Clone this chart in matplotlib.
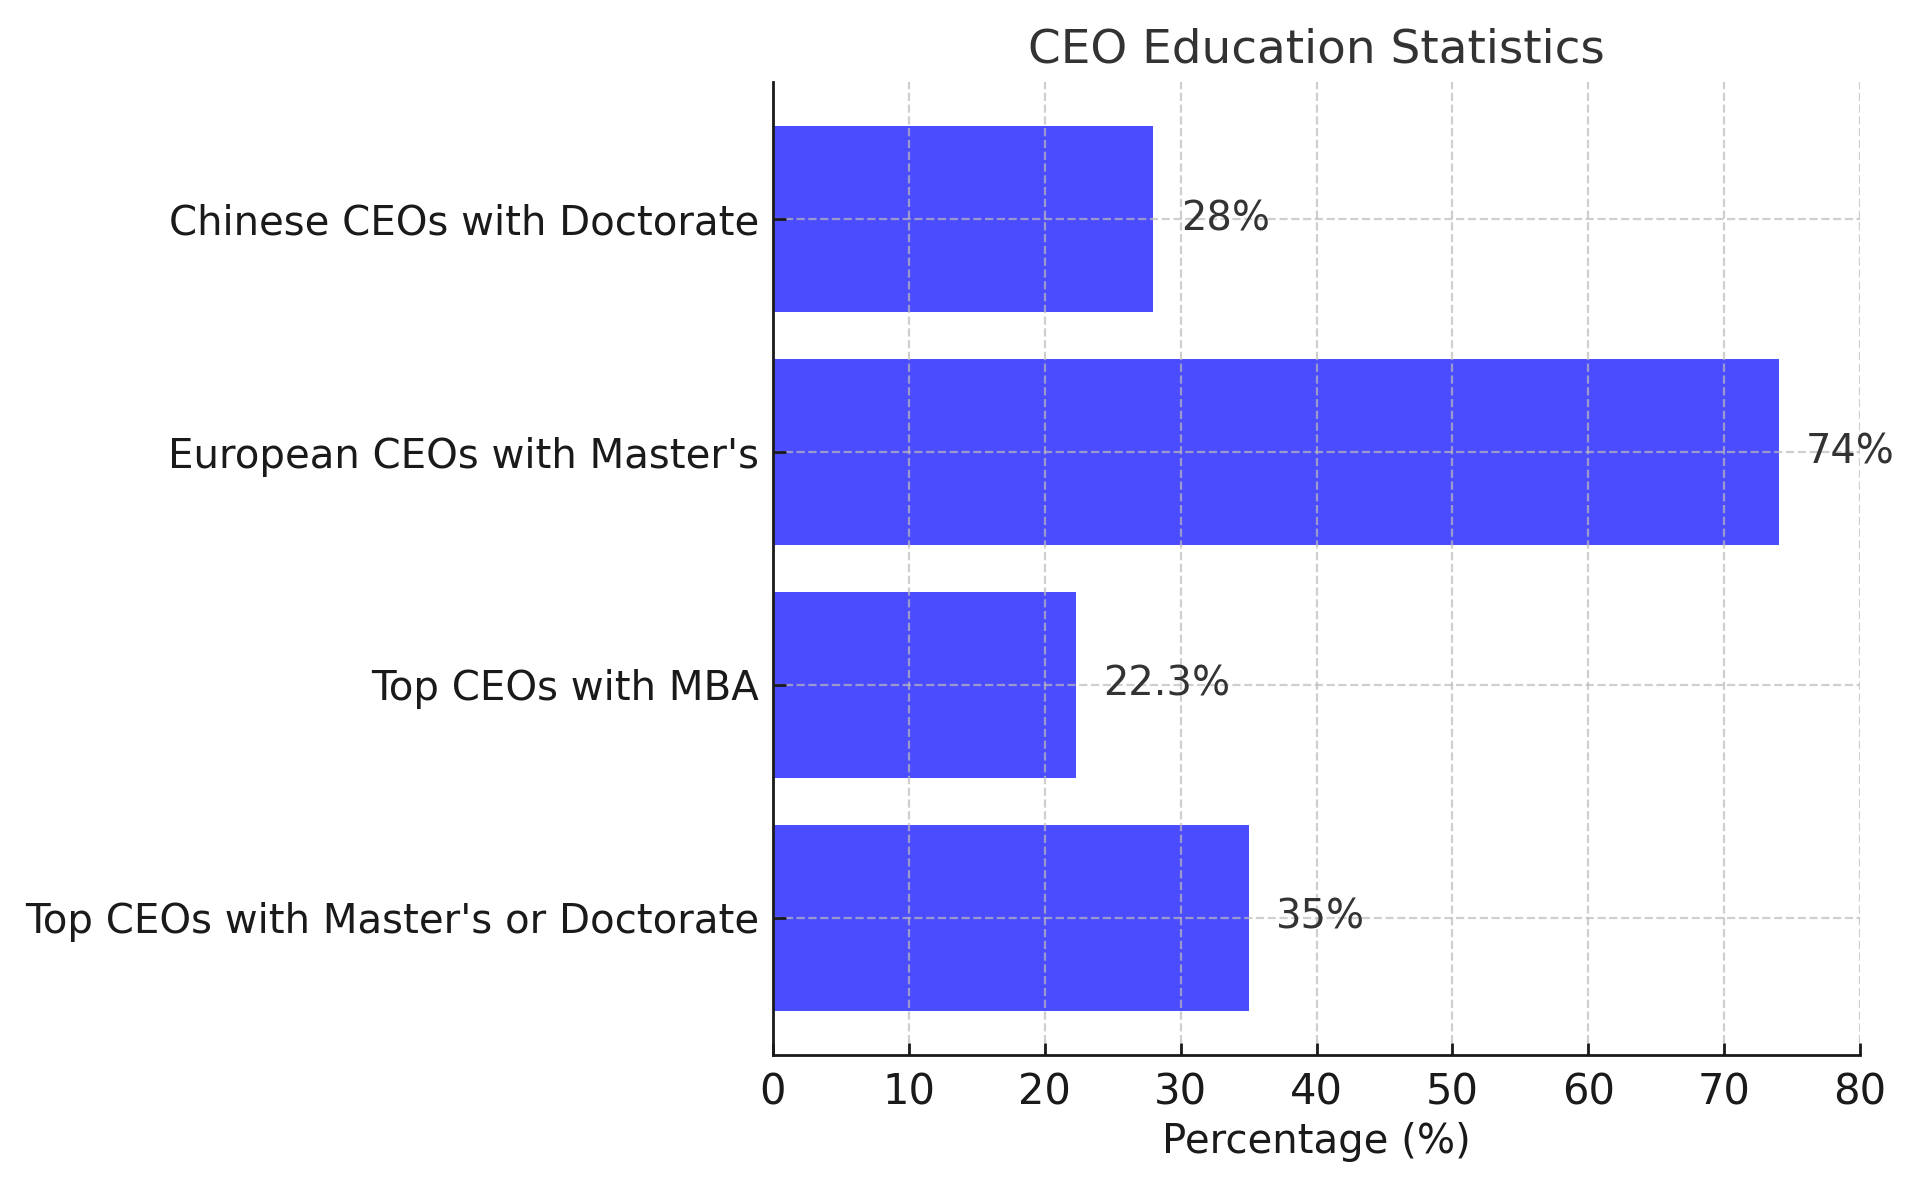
import numpy as np
import matplotlib
matplotlib.use("Agg")
import matplotlib.pyplot as plt

categories = ["Top CEOs with Master's or Doctorate", "Top CEOs with MBA",
              "European CEOs with Master's", "Chinese CEOs with Doctorate"]
values = [35, 22.3, 74, 28]
value_labels = ["35%", "22.3%", "74%", "28%"]

fig = plt.figure(figsize=(9.6, 5.925), dpi=200)
ax = fig.add_axes([0.4026, 0.1097, 0.5662, 0.8211])

y = np.arange(len(categories))
ax.barh(y, values, height=0.8, color="blue", alpha=0.7, zorder=2)
ax.set_yticks(y)
ax.set_yticklabels(categories, fontsize=14.5)
ax.set_xlim(0, 80)
ax.set_xticks(np.arange(0, 81, 10))

for yi, v, lab in zip(y, values, value_labels):
    ax.text(v + 2, yi, lab, va="center", ha="left", fontsize=14.4, color="#333333")

# grid sits over the bars, light and semi-transparent
ax.set_axisbelow(False)
ax.grid(True, linestyle="--", color="#bbbbbb", linewidth=0.8, alpha=0.7)
ax.spines["top"].set_visible(False)
ax.spines["right"].set_visible(False)
for s in ["left", "bottom"]:
    ax.spines[s].set_linewidth(1.0)
    ax.spines[s].set_color("#1a1a1a")
    ax.spines[s].set_zorder(5)
ax.tick_params(direction="in", length=4.5, width=1.0, labelsize=15,
               labelcolor="#1a1a1a", color="#1a1a1a")
ax.tick_params(axis="y", labelsize=14.5, pad=5)
ax.tick_params(axis="x", pad=6)

ax.set_xlabel("Percentage (%)", fontsize=14.5, color="#1a1a1a", labelpad=3)
ax.set_title("CEO Education Statistics", fontsize=16.9, color="#333333", pad=7)

fig.savefig("out.png", dpi=200)
